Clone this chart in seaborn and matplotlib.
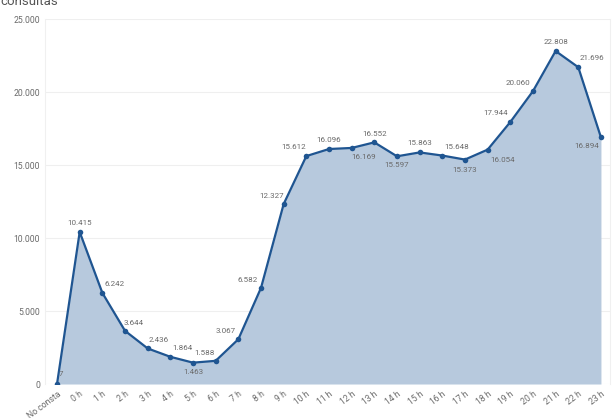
"""Consultas por hora: grafica de area con etiquetas."""

import pandas as pd
import seaborn as sns
import matplotlib.pyplot as plt
from matplotlib.ticker import FuncFormatter

# datos
horas = ["No consta"] + [f"{h} h" for h in range(24)]
consultas = [7, 10415, 6242, 3644, 2436, 1864, 1463, 1588, 3067, 6582,
             12327, 15612, 16096, 16169, 16552, 15597, 15863, 15648,
             15373, 16054, 17944, 20060, 22808, 21696, 16894]
y_ticks = [0, 5000, 10000, 15000, 20000, 25000]

# desplazamiento de cada etiqueta (pixeles)
label_offsets = [(4, 10), (0, 9), (12, 9), (9, 8), (11, 8), (12, 9), (0, -9),
                 (-11, 8), (-13, 8), (-13, 8), (-12, 8), (-13, 9), (0, 9),
                 (12, -9), (0, 8), (0, -9), (0, 9), (14, 9), (0, -10),
                 (15, -10), (-15, 9), (-15, 8), (0, 9), (14, 9), (-14, -9)]

LINE = "#1f5591"
FILL = "#b7c9dd"
GREY = "#6a6a6a"

sns.set_style("white")
plt.rcParams["font.family"] = ["Roboto", "DejaVu Sans"]

df = pd.DataFrame({"pos": range(len(horas)), "hora": horas, "consultas": consultas})

fig = plt.figure(figsize=(6.15, 4.18), dpi=100)
ax = fig.add_axes([0.0732, 0.0813, 0.9187, 0.8732])

ax.fill_between(df["pos"], df["consultas"], color=FILL, lw=0, zorder=1)
sns.lineplot(data=df, x="pos", y="consultas", color=LINE, lw=1.6,
             marker="o", markersize=4, markeredgewidth=0, ax=ax, zorder=3)

for (x, v), (dx, dy) in zip(zip(df["pos"], df["consultas"]), label_offsets):
    ax.annotate(f"{v:,}".replace(",", "."), (x, v), xytext=(dx, dy),
                textcoords="offset pixels", ha="center", va="center",
                fontsize=5.8, color=GREY, zorder=4)

ax.set_xlim(-0.53, 24.4)
ax.set_ylim(0, 25000)
ax.set_yticks(y_ticks)
ax.yaxis.set_major_formatter(FuncFormatter(lambda v, p: f"{int(v):,}".replace(",", ".")))
ax.set_xticks(df["pos"])
ax.set_xticklabels(horas, rotation=37, ha="right", rotation_mode="anchor")
ax.tick_params(axis="both", length=0, labelsize=6.2, colors=GREY)
ax.tick_params(axis="x", pad=4)
ax.grid(axis="y", color="#efefef", lw=0.8, zorder=0)
ax.set_axisbelow(True)
for side in ["top", "bottom"]:
    ax.spines[side].set_visible(False)
for side in ["left", "right"]:
    ax.spines[side].set_color("#f0f0f0")
    ax.spines[side].set_linewidth(0.8)
ax.set_xlabel("")
ax.set_ylabel("")

fig.text(0.0, 0.988, "consultas", fontsize=9.5, color="#555555", ha="left", va="baseline")

fig.savefig("out.png", dpi=100)
